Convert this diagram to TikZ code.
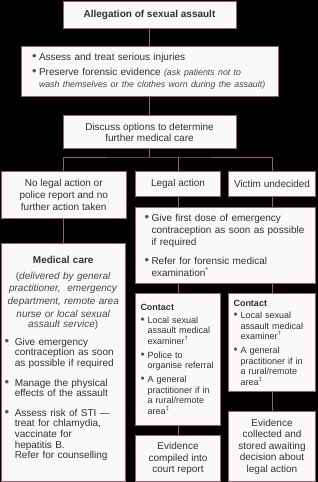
\documentclass[tikz,border=0pt]{standalone}
\usepackage{fontspec}
\setmainfont{Liberation Sans}
\usetikzlibrary{positioning}

\definecolor{boxline}{RGB}{155,95,108}
\definecolor{boxfill}{RGB}{250,249,249}
\definecolor{txt}{RGB}{50,50,50}
\definecolor{notegray}{RGB}{70,70,70}
\definecolor{bulgray}{RGB}{85,85,85}

\newcommand{\bulitem}{\makebox[7pt][l]{\textcolor{bulgray}{\scalebox{1.3}{\textbullet}}}}
\newcommand{\bulpad}{\hspace*{7pt}}
\newcommand{\medbul}{\makebox[10pt][l]{\textcolor{bulgray}{\scalebox{1.3}{\textbullet}}}}
\newcommand{\medpad}{\hspace*{10pt}}
\newcommand{\notetext}{\fontsize{8.8}{11}\selectfont\itshape\color{notegray}}

\begin{document}
\begin{tikzpicture}[
  x=1pt, y=-1pt,
  font=\fontsize{10}{11.5}\selectfont,
  node distance=18pt,
  box/.style={draw=boxline, line width=1pt, fill=boxfill, text=txt, align=center, inner sep=0pt},
  cornerbox/.style={box, anchor=north west},
  conn/.style={draw=boxline, line width=1pt}
]
  \fill[black] (0,0) rectangle (318,482);
  \useasboundingbox (0,0) rectangle (318,482);

  % top column
  \node[box, anchor=north, minimum width=173pt, minimum height=27pt] (alleg) at (149.5,0.5)
    {\textbf{Allegation of sexual assault}};
  \node[box, below=17.5pt of alleg, minimum width=257pt, minimum height=50pt, text width=235pt, align=left] (assess)
    {\bulitem Assess and treat serious injuries\\[3.5pt]
     \bulitem Preserve forensic evidence {\notetext(ask patients not to}\\
     \bulpad{\notetext wash themselves or the clothes worn during the assault)}};
  \node[box, below=of assess, minimum width=173pt, minimum height=33pt, font=\fontsize{10}{11}\selectfont] (discuss)
    {Discuss options to determine\\further medical care};
  \coordinate (split) at (149.5,157);

  % three options
  \node[cornerbox, minimum width=125.5pt, minimum height=47pt, font=\fontsize{10}{12}\selectfont] (nolegal) at (0.5,171)
    {No legal action or\\police report and no\\further action taken};
  \node[cornerbox, minimum width=85pt, minimum height=25pt] (legal) at (135,171) {Legal action};
  \node[cornerbox, minimum width=87pt, minimum height=25pt] (undecided) at (228,171) {Victim undecided};

  % legal / undecided branch
  \node[cornerbox, minimum width=180pt, minimum height=76pt, text width=162pt, align=left, font=\fontsize{10}{12}\selectfont] (ecbox) at (135,207)
    {\bulitem Give first dose of emergency\\
     \bulpad contraception as soon as possible\\
     \bulpad if required\\[7pt]
     \bulitem Refer for forensic medical\\
     \bulpad examination\textsuperscript{*}};
  \node[cornerbox, minimum width=85pt, minimum height=132pt, text width=75pt, align=left, font=\fontsize{9}{10.5}\selectfont] (contactl) at (135,293)
    {\textbf{Contact}\\[2pt]
     \bulitem Local sexual\\
     \bulpad assault medical\\
     \bulpad examiner\textsuperscript{\textdagger}\\[3.5pt]
     \bulitem Police to\\
     \bulpad organise referral\\[3.5pt]
     \bulitem A general\\
     \bulpad practitioner if in\\
     \bulpad a rural/remote\\
     \bulpad area\textsuperscript{\textdaggerdbl}};
  \node[cornerbox, minimum width=87pt, minimum height=98pt, text width=77pt, align=left, font=\fontsize{9}{10.5}\selectfont] (contactr) at (228,293)
    {\textbf{Contact}\\[2pt]
     \bulitem Local sexual\\
     \bulpad assault medical\\
     \bulpad examiner\textsuperscript{\textdagger}\\[3.5pt]
     \bulitem A general\\
     \bulpad practitioner if in\\
     \bulpad a rural/remote\\
     \bulpad area\textsuperscript{\textdaggerdbl}};
  \node[cornerbox, minimum width=85pt, minimum height=46pt] (evidl) at (135,435)
    {Evidence\\compiled into\\court report};
  \node[cornerbox, minimum width=87pt, minimum height=70pt] (evidr) at (228,411)
    {Evidence\\collected and\\stored awaiting\\decision about\\legal action};

  % no legal action branch
  \node[cornerbox, minimum width=124.5pt, minimum height=238pt, text width=117pt, align=left, font=\fontsize{10}{10.6}\selectfont] (medical) at (0.5,243)
    {{\centering \textbf{Medical care}\\[3pt]
      {\color{notegray}\fontsize{10}{12.7}\selectfont
      (\textit{delivered by general}\\
      \textit{practitioner,\ \ emergency}\\
      \textit{department, remote area}\\
      \textit{nurse or local sexual}\\
      \textit{assault service})}\par}
     \vspace{7pt}
     \medbul Give emergency\\
     \medpad contraception as soon\\
     \medpad as possible if required\\[9pt]
     \medbul Manage the physical\\
     \medpad effects of the assault\\[9pt]
     \medbul Assess risk of STI ---\\
     \medpad treat for chlamydia,\\
     \medpad vaccinate for\\
     \medpad hepatitis B.\\
     \medpad Refer for counselling\par\vspace{8pt}};

  % connectors
  \draw[conn] (alleg) -- (assess);
  \draw[conn] (assess) -- (discuss);
  \draw[conn] (discuss.south) -- (split);
  \draw[conn] (nolegal.north) |- (split) -| (undecided.north);
  \draw[conn] (legal.north) -- (legal.north |- split);
  \draw[conn] (legal.south) -- (legal.south |- ecbox.north);
  \draw[conn] (undecided.south) -- (undecided.south |- ecbox.north);
  \draw[conn] (nolegal.south) -- (nolegal.south |- medical.north);
  \draw[conn] (contactl.north |- ecbox.south) -- (contactl.north);
  \draw[conn] (contactr.north |- ecbox.south) -- (contactr.north);
  \draw[conn] (contactl) -- (evidl);
  \draw[conn] (contactr) -- (evidr);
\end{tikzpicture}
\end{document}
